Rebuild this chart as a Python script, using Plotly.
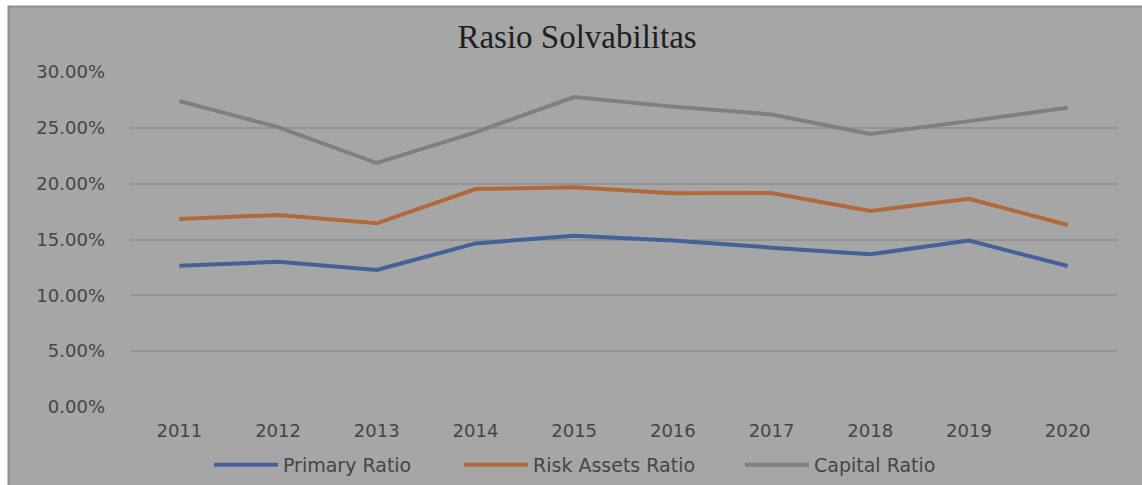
import plotly.graph_objects as go

years = ["2011", "2012", "2013", "2014", "2015", "2016", "2017", "2018", "2019", "2020"]
primary_ratio = [0.1266, 0.1300, 0.1227, 0.1465, 0.1534, 0.1490, 0.1427, 0.1367, 0.1490, 0.1263]
risk_assets_ratio = [0.1684, 0.1720, 0.1645, 0.1952, 0.1967, 0.1914, 0.1916, 0.1755, 0.1865, 0.1630]
capital_ratio = [0.2740, 0.2507, 0.2185, 0.2460, 0.2776, 0.2690, 0.2620, 0.2445, 0.2560, 0.2680]
y_ticks = [0, 0.05, 0.10, 0.15, 0.20, 0.25, 0.30]

W, H = 1142, 485
L, R, T, B = 130, 25, 72, 78
pw, ph = W - L - R, H - T - B

def px_x(p):
    return (p - L) / pw

def px_y(p):
    return (H - B - p) / ph

BG = "#A6A6A6"
TXT = "#454545"
FONT = "DejaVu Sans"

fig = go.Figure()
series = [
    ("Primary Ratio", primary_ratio, "#46619A", 171),
    ("Risk Assets Ratio", risk_assets_ratio, "#B2693A", 202),
    ("Capital Ratio", capital_ratio, "#7F7F7F", 150),
]
for name, vals, col, lw in series:
    fig.add_trace(go.Scatter(x=years, y=vals, mode="lines", name=name,
                             line=dict(color=col, width=4), legendwidth=lw))

fig.add_shape(type="rect", xref="paper", yref="paper",
              x0=px_x(8.5), x1=px_x(W + 20), y0=px_y(H + 20), y1=px_y(6.5),
              fillcolor=BG, line=dict(color="#8E8E8E", width=2), layer="below")

fig.update_layout(
    width=W, height=H,
    margin=dict(l=L, r=R, t=T, b=B, autoexpand=False),
    paper_bgcolor="white",
    plot_bgcolor=BG,
    title=dict(text="Rasio Solvabilitas", x=px_x(577), xref="paper", xanchor="center",
               y=1 - 36 / H, yref="container", yanchor="middle",
               font=dict(family="Liberation Serif", size=33, color="#1E1E1E")),
    font=dict(family=FONT, size=18, color=TXT),
    xaxis=dict(showgrid=False, showline=False, zeroline=False, ticks="",
               range=[-0.5, len(years) - 0.5],
               tickfont=dict(family=FONT, size=18, color=TXT),
               ticklabelstandoff=11),
    yaxis=dict(range=[0, 0.30], tickvals=y_ticks, tickformat=".2%",
               showgrid=True, gridcolor="#939393", gridwidth=1.5,
               zeroline=False, showline=False, ticks="",
               tickfont=dict(family=FONT, size=18, color=TXT),
               ticklabelstandoff=24),
    legend=dict(orientation="h", x=209 / W, xref="container", xanchor="left",
                y=1 - 465 / H, yref="container", yanchor="middle",
                bgcolor="rgba(0,0,0,0)", font=dict(family=FONT, size=19, color=TXT),
                itemwidth=64, tracegroupgap=0, entrywidthmode="pixels"),
    showlegend=True,
)

fig.write_html("out.html", config={"displayModeBar": False},
               post_script="document.body.style.margin='0';")
